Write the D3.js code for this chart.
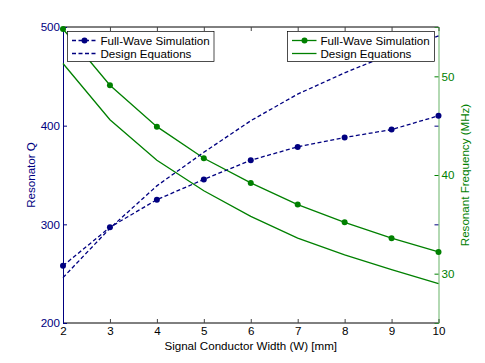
<!DOCTYPE html>
<html>
<head>
<meta charset="utf-8">
<script src="https://cdn.jsdelivr.net/npm/d3@7"></script>
<style>
    body { margin: 0; background: #fff; }
    svg text { font-family: "Liberation Sans", Arial, Helvetica, sans-serif; font-size: 11.6px; }
</style>
</head>
<body>
<svg id="chart" width="485" height="363"></svg>
<script>
// signal conductor width W [mm]
const widths = [2, 3, 4, 5, 6, 7, 8, 9, 10];

// resonator Q (left axis)
const qSim = [258, 297, 325, 345.5, 365, 378.5, 388, 396, 410];
const qDesign = [246, 296, 339, 373, 405, 432, 453.5, 473, 491];

// resonant frequency in MHz (right axis)
const fSim = [54.8, 49.1, 44.9, 41.7, 39.2, 37.0, 35.2, 33.6, 32.2];
const fDesign = [51.3, 45.6, 41.5, 38.4, 35.8, 33.6, 31.9, 30.4, 29.0];

const xTicks = [2, 3, 4, 5, 6, 7, 8, 9, 10];
const qTicks = [200, 300, 400, 500];
const fTicks = [30, 40, 50];

const blue = '#000080';
const green = '#008000';

const margin = { left: 63, right: 438.5, top: 27, bottom: 323 };
const svg = d3.select('#chart');

const x = d3.scaleLinear().domain([2, 10]).range([margin.left, margin.right]);
const yL = d3.scaleLinear().domain([200, 500]).range([margin.bottom, margin.top]);
const yR = d3.scaleLinear().domain([25, 55]).range([margin.bottom, margin.top]);

const tickLen = 4;

// box (top and bottom in gray)
svg.append('line')
    .attr('x1', margin.left).attr('x2', margin.right)
    .attr('y1', margin.top).attr('y2', margin.top)
    .style('stroke', '#000').style('stroke-width', 1);
svg.append('line')
    .attr('x1', margin.left).attr('x2', margin.right)
    .attr('y1', margin.bottom).attr('y2', margin.bottom)
    .style('stroke', '#000').style('stroke-width', 1);

// x ticks, inward on bottom and top
const xAxisBottom = d3.axisBottom(x).tickValues(xTicks).tickSize(-tickLen).tickPadding(tickLen).tickFormat(d3.format('d'));
const gx = svg.append('g').attr('transform', `translate(0,${margin.bottom})`).call(xAxisBottom);
gx.select('.domain').remove();
gx.selectAll('line').style('stroke', '#444');
gx.selectAll('text').style('fill', '#000').style('font-size', '11.6px');

const gxTop = svg.append('g').attr('transform', `translate(0,${margin.top})`)
    .call(d3.axisTop(x).tickValues(xTicks).tickSize(-tickLen).tickFormat(''));
gxTop.select('.domain').remove();
gxTop.selectAll('line').style('stroke', '#444');

// left axis (Q)
const gl = svg.append('g').attr('transform', `translate(${margin.left},0)`)
    .call(d3.axisLeft(yL).tickValues(qTicks).tickSize(-tickLen).tickPadding(3));
gl.select('.domain').style('stroke', blue).style('stroke-width', 1);
gl.selectAll('line').style('stroke', blue);
gl.selectAll('text').style('fill', blue).style('font-size', '11.6px');

// mirrored Q ticks on the right side
const glr = svg.append('g').attr('transform', `translate(${margin.right},0)`)
    .call(d3.axisRight(yL).tickValues([300, 400]).tickSize(-tickLen).tickFormat(''));
glr.select('.domain').remove();
glr.selectAll('line').style('stroke', blue);

// right axis (frequency)
const gr = svg.append('g').attr('transform', `translate(${margin.right},0)`)
    .call(d3.axisRight(yR).tickValues(fTicks).tickSize(-tickLen).tickPadding(3));
gr.select('.domain').style('stroke', green).style('stroke-width', 0.6);
gr.selectAll('line').style('stroke', green);
gr.selectAll('text').style('fill', green).style('font-size', '11.6px');

// axis titles
svg.append('text')
    .attr('x', (margin.left + margin.right) / 2).attr('y', 349.5)
    .attr('text-anchor', 'middle').style('fill', '#000')
    .text('Signal Conductor Width (W) [mm]');
svg.append('text')
    .attr('transform', `translate(35,175) rotate(-90)`)
    .attr('text-anchor', 'middle').style('fill', blue)
    .text('Resonator Q');
svg.append('text')
    .attr('transform', `translate(469,175) rotate(-90)`)
    .attr('text-anchor', 'middle').style('fill', green)
    .text('Resonant Frequency (MHz)');

// series
const lineQ = d3.line().x((d, i) => x(widths[i])).y(d => yL(d));
const lineF = d3.line().x((d, i) => x(widths[i])).y(d => yR(d));

const series = [
    { values: fDesign, line: lineF, color: green, dash: null, dots: false, y: yR },
    { values: fSim, line: lineF, color: green, dash: null, dots: true, y: yR },
    { values: qDesign, line: lineQ, color: blue, dash: '4,2.5', dots: false, y: yL },
    { values: qSim, line: lineQ, color: blue, dash: '4,2.5', dots: true, y: yL }
];

series.forEach(s => {
    svg.append('path')
        .datum(s.values)
        .attr('d', s.line)
        .style('fill', 'none')
        .style('stroke', s.color)
        .style('stroke-width', 1.3)
        .style('stroke-dasharray', s.dash);
    if (s.dots) {
        svg.append('g').selectAll('circle')
            .data(s.values)
            .enter().append('circle')
            .attr('cx', (d, i) => x(widths[i]))
            .attr('cy', d => s.y(d))
            .attr('r', 3)
            .style('fill', s.color);
    }
});

// legends
function drawLegend(x0, y0, w, color, dash) {
    const g = svg.append('g').attr('transform', `translate(${x0},${y0})`);
    g.append('rect')
        .attr('width', w).attr('height', 30)
        .style('fill', '#fff').style('stroke', '#000').style('stroke-width', 0.7);
    const rows = [{ label: 'Full-Wave Simulation', dot: true }, { label: 'Design Equations', dot: false }];
    rows.forEach((r, i) => {
        const cy = 9 + i * 13;
        g.append('line')
            .attr('x1', 4.5).attr('x2', 29).attr('y1', cy).attr('y2', cy)
            .style('stroke', color).style('stroke-width', 1.3)
            .style('stroke-dasharray', dash);
        if (r.dot) {
            g.append('circle').attr('cx', 17).attr('cy', cy).attr('r', 3).style('fill', color);
        }
        g.append('text')
            .attr('x', 33).attr('y', cy + 4)
            .style('fill', '#000')
            .text(r.label);
    });
}

drawLegend(67.5, 31.5, 146.5, blue, '4,2.5');
drawLegend(287.5, 31.5, 147, green, null);
</script>
</body>
</html>
